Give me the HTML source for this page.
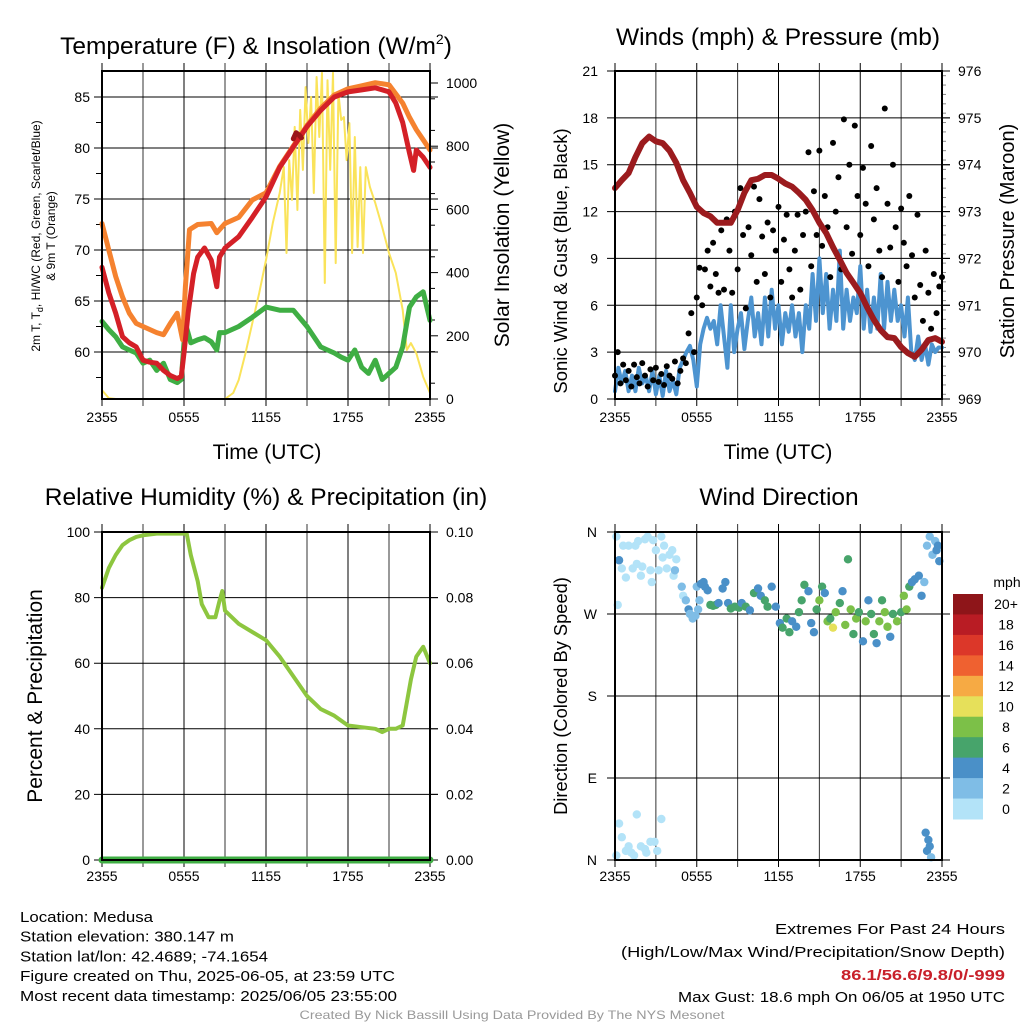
<!DOCTYPE html>
<html><head><meta charset="utf-8"><style>
html,body{margin:0;padding:0;background:#fff;}
svg{display:block;font-family:"Liberation Sans",Arial,sans-serif;}
</style></head><body>
<svg id="chart" width="1024" height="1024" viewBox="0 0 1024 1024" xmlns="http://www.w3.org/2000/svg"></svg>
<script>
// ---------- DATA ----------
const xTickLabels = ["2355","0555","1155","1755","2355"];
// Panel 1: temperature
const tempHours = [0,0.5,1,1.5,2,2.5,3,3.5,4,4.5,5,5.5,5.8,6,6.3,6.7,7,7.5,8,8.4,8.6,9,10,11,12,13,14,15,16,17,18,19,20,21,21.5,22,22.5,22.8,23,23.5,24];
const temp2m = [68.3,65.8,63.8,61.5,60.9,60.5,59.2,59,58.9,58.2,57.7,57.4,57.6,59.9,63.8,67.7,69.3,70.2,69,66.4,69.3,70.2,71.3,73.2,75.2,78.1,80.1,82.1,83.7,85,85.5,85.7,85.9,85.5,84.4,82.5,79.5,77.8,79.8,79.1,78.1];
const temp9mHours = [0,0.5,1,1.5,2,2.5,3,4,4.5,5,5.5,5.9,6.1,6.4,7,8,8.4,9,10,11,12,13,14,15,16,17,18,19,20,21,22,22.5,23,23.5,24];
const temp9m = [72.6,70,67.4,65.4,63.8,62.8,62.5,61.9,61.7,62.8,63.8,61.2,66.4,72,72.5,72.6,71.7,72.6,73.2,74.9,75.6,78.2,80.2,82.2,83.9,85.2,85.8,86.1,86.4,86.2,84.4,83,81.8,80.8,79.8];
const dewHours = [0,0.5,1,1.5,2,2.5,3,3.5,4,4.5,5,5.5,5.8,6.1,6.5,7,7.5,8,8.4,8.6,9,10,11,12,13,14,15,16,16.5,17,17.5,18,18.5,19,19.5,20,20.5,21,21.5,22,22.5,23,23.5,24];
const dewpoint = [63,62.2,61.5,60.5,60.2,59.9,58.9,59.2,58.2,58.9,57.3,57,57.3,62.8,60.9,61.2,61.4,61,60.2,61.9,61.9,62.5,63.4,64.4,64.1,64.1,62.5,60.5,60.2,59.9,59.5,59.2,60.2,58.5,57.9,59.2,57.3,57.9,58.5,60.5,64.4,65.4,65.9,63.1];
const heatIdxHours = [14.0,14.2,14.4,14.6];
const heatIdx = [80.9,81.5,81.3,81.0];
const solarHours = [0,0.5,1,9,9.6,10,10.5,11,11.5,12,12.5,13,13.3,13.5,13.7,13.9,14.1,14.3,14.5,14.7,14.9,15.1,15.3,15.5,15.7,15.9,16.1,16.3,16.5,16.7,16.9,17.1,17.3,17.5,17.7,17.9,18.1,18.3,18.5,18.7,18.9,19.1,19.3,19.6,20,20.5,21,21.5,22,22.3,22.6,23,23.5,24];
const solar = [28,3,0,0,19,60,145,240,335,440,557,652,734,462,756,630,861,598,915,725,987,810,956,652,1019,829,1032,367,1009,725,1032,430,968,883,892,756,873,462,829,481,734,462,734,671,620,544,462,399,282,155,177,145,70,19];
const tempTicks = [60,65,70,75,80,85];
const solarTicks = [0,200,400,600,800,1000];
// Panel 2: winds & pressure
const pressHours = [0,0.5,1,1.5,2,2.5,3,3.5,4,4.5,5,5.5,6,6.5,7,7.5,8,8.5,9,9.5,10,10.5,11,11.5,12,12.5,13,13.5,14,14.5,15,15.5,16,16.5,17,17.5,18,18.5,19,19.5,20,20.5,21,21.5,22,22.5,23,23.5,24];
const pressure = [973.5,973.67,973.82,974.16,974.46,974.6,974.5,974.46,974.3,974.04,973.67,973.4,973.1,972.97,972.9,972.76,972.76,972.76,973.03,973.4,973.67,973.7,973.78,973.78,973.7,973.6,973.53,973.4,973.25,973.03,972.76,972.54,972.24,971.97,971.69,971.48,971.26,970.96,970.69,970.47,970.32,970.3,970.11,969.98,969.9,970.05,970.26,970.3,970.22];
const windStepHours = 0.25;
const windSpeed = [0.5,2,1,1.8,0.5,1.5,0.5,2,1,1.5,0.5,1.8,0.3,1.5,0.2,1.8,0.5,1.2,0.3,2,2.5,3,3.4,2.5,0.8,3.5,4.5,5.2,4.5,5,3.5,6,4,2,6,3,4.5,5.5,3.2,5,6.5,4,5.5,3.5,6.5,4,7,4.5,6,3.5,5.5,4.3,6,4,5.5,3,6,4.5,8,5,9,5.5,8,4.5,7,5,9.5,4.5,7,5,6.5,5.5,8.5,4.5,7,4.3,6.5,4.5,8,4.5,7.5,5,7,5,6,4,6.5,3,2.5,4,2.5,3.5,2.2,3.5,3,3.3,3.3];
const gustStepHours = 0.2;
const gusts = [1.5,3,1,2.2,1.2,1.8,0.8,2.2,1.4,1,2.3,1.5,0.8,1.9,1.2,2,1.1,1.6,0.9,2.1,1.5,1.3,2.4,1,1.8,2.6,
2.3,4.2,5.5,3,6.5,8.4,6,8.3,9.5,7.2,10,8,6.8,10.8,
7,11.5,9.5,6.8,12,8.3,13.5,10.5,5.8,11,9.2,13.6,7.5,12.8,10.4,8,11.3,6.5,10.8,9.5,12.3,7.5,10.2,11.8,8.3,6.5,9.5,11.8,7,10.5,
12,15.8,8.5,13.3,10.5,15.9,9.8,13,11,7.8,16.4,12,14.2,8.3,17.9,11,15,9.3,17.5,13,10.5,14.8,12.5,8.5,16.2,11.5,13.5,9.5,7.8,18.6,
12.5,9.7,15,11,7.5,12.2,10,8.5,13,9.2,6.5,11.8,7.3,5,9.5,6.8,4.5,8,5.5,7.2,7.8];
const windTicks = [0,3,6,9,12,15,18,21];
const pressTicks = [969,970,971,972,973,974,975,976];
// Panel 3: RH & precip
const rhHours = [0,0.5,1,1.5,2,2.5,3,4,5,6,6.2,6.5,7,7.3,7.8,8.3,8.6,8.8,9,10,11,12,13,14,15,16,17,18,19,20,20.5,21,21.5,22,22.3,22.6,23,23.5,24];
const rh = [83,89,93,96,97.5,98.5,99,99.5,99.5,99.5,99.5,93,85,78,74,74,79,82,76,72,69.5,67,62,56,50,46,44,41,40.5,40,39,40,40,41,48,55,62,65,60];
const precipHours = [0,24];
const precip = [0,0];
const rhTicks = [0,20,40,60,80,100];
const precipTicks = ["0.00","0.02","0.04","0.06","0.08","0.10"];
// Panel 4: wind direction
const dirHours = [0.1,0.2,0.3,0.5,0.6,0.8,1.0,1.3,1.5,1.7,1.6,1.9,2.2,2.0,2.4,2.6,2.8,3.0,2.7,3.2,3.4,3.5,3.6,3.8,4.0,4.2,4.3,4.5,4.4,4.9,5.0,
0.1,0.3,0.5,0.8,1.0,1.2,1.4,1.6,1.9,2.2,2.3,2.6,2.9,3.4,3.1,
5.2,5.4,5.5,5.7,5.9,6.0,6.2,6.1,6.3,6.5,6.6,6.8,7.0,7.2,7.4,7.6,7.9,8.1,8.3,8.5,8.8,9.1,9.3,9.6,9.9,10.2,10.5,10.7,11.0,11.2,11.5,11.8,12.1,12.3,12.6,12.8,13.0,13.3,13.5,13.7,13.9,14.2,14.4,14.6,14.8,15.0,15.2,15.4,15.6,15.8,16.0,16.2,16.5,16.7,16.9,17.1,17.3,17.5,17.7,17.9,18.2,18.4,18.6,18.8,19.0,19.2,19.4,19.6,19.8,20.0,20.2,20.4,20.7,21.0,21.2,21.4,21.6,21.8,22.0,22.3,22.5,22.7,22.9,23.1,23.3,23.5,23.6,23.8,23.7,
22.8,23.0,23.1,22.9,23.2];
const dirDeg = [355,280,329,320,345,310,345,320,345,350,325,312,352,322,355,318,351,340,305,318,355,332,345,320,335,340,312,330,318,300,290,
5,40,25,10,15,8,5,50,15,12,8,20,20,45,10,
285,275,270,265,268,300,285,275,303,305,300,296,280,279,280,282,298,305,282,276,278,277,282,278,274,293,298,290,285,278,300,278,260,255,265,250,262,256,272,285,302,295,260,250,275,285,300,293,262,265,255,272,282,295,258,330,275,248,265,272,240,262,285,270,248,238,262,285,272,256,245,270,262,272,290,275,300,305,308,312,290,305,345,355,335,350,340,328,345,
30,22,15,10,3];
const dirSpeed = [1,1,4.5,1,1,1,1,1,1,1,1,1,1,1,1,1,1,1,1,1,1,1,1,1,1,1,1,1,3,3,1,
1,1,1,1,1,1,1,1,1,1,1,1,1,1,1,
3,4.5,3,3,3,3,3,3,4.5,4.5,4.5,4.5,6.5,6.5,6.5,4.5,4.5,4.5,4.5,6.5,6.5,6.5,4.5,6.5,4.5,6.5,4.5,4.5,6.5,6.5,4.5,4.5,4.5,6.5,6.5,6.5,4.5,4.5,6.5,6.5,6.5,4.5,4.5,4.5,6.5,9,6.5,4.5,9,6.5,10,9,6.5,4.5,9,6.5,8.5,6.5,9,6.5,4.5,9,4.5,6.5,6.5,4.5,8.5,6.5,9,8.5,4.5,6.5,8.5,6.5,8.5,8.5,6.5,4.5,4.5,4.5,4.5,3,3,3,3,3,4.5,4.5,4.5,
4.5,4.5,4.5,4.5,3];
const dirTicks = ["N","E","S","W","N"];
const speedBins = ["0","2","4","6","8","10","12","14","16","18","20+"];
const binColors = ["#b3e3f8","#7fbde6","#4a90c8","#47a46b","#7cc048","#e6e05a","#f6aa44","#ef6130","#dc3729","#b91c24","#8e1519"];

// ---------- RENDER ----------
const NS = "http://www.w3.org/2000/svg";
const svg = document.getElementById("chart");
function mk(tag, attrs, parent) {
  const e = document.createElementNS(NS, tag);
  for (const k in attrs) e.setAttribute(k, attrs[k]);
  (parent || svg).appendChild(e);
  return e;
}
function txt(s, x, y, size, anchor, parent, extra) {
  const e = mk("text", Object.assign({x: x, y: y, "font-size": size, "text-anchor": anchor || "middle", fill: "#000"}, extra || {}), parent);
  e.textContent = s;
  return e;
}
function linScale(d0, d1, r0, r1) { return v => r0 + (v - d0) / (d1 - d0) * (r1 - r0); }

function panel(name, L, R, T, B) {
  const g = mk("g", {});
  
  
  return {g: g, L: L, R: R, T: T, B: B, x: linScale(0, 24, L, R)};
}
function grid(p, yVals, yScale) {
  const gg = mk("g", {stroke: "#000", "stroke-width": 1}, p.g);
  
  
  for (let h = 0; h <= 24; h += 3) {
    const x = p.x(h);
    mk("line", {x1: x, x2: x, y1: p.T - 8, y2: p.B + 7, stroke: (h % 6 === 0) ? "#000" : "#333"}, gg);
  }
  yVals.forEach(v => {
    const y = yScale(v);
    mk("line", {x1: p.L - 8, x2: p.R + 8, y1: y, y2: y}, gg);
  });
}
function frame(p) {
  const f = mk("rect", {x: p.L, y: p.T, width: p.R - p.L, height: p.B - p.T, fill: "none", stroke: "#000", "stroke-width": 2}, p.g);
  
  
}
function xLabels(p, y) {
  xTickLabels.forEach((s, i) => {
    const t = txt(s, p.x(i * 6), y, 14, "middle", p.g);
    
    
  });
}
function linePath(p, xs, ys, yScale, color, w, name) {
  let d = "";
  xs.forEach((h, i) => { d += (i ? "L" : "M") + p.x(h).toFixed(1) + "," + yScale(ys[i]).toFixed(1); });
  const e = mk("path", {d: d, fill: "none", stroke: color, "stroke-width": w, "stroke-linejoin": "round", "stroke-linecap": "round"}, p.g);
  
  
  return e;
}
function vTitle(s, x, y, size, parent, name) {
  const t = txt(s, x, y, size, "middle", parent, {transform: "rotate(-90 " + x + " " + y + ")"});
  
  
  return t;
}

// ===== Panel 1 =====
const p1 = panel("temperature-panel", 102, 430, 71, 399);
const yT = linScale(60, 85, 352, 97);
const yS = linScale(0, 1000, 399, 83);
grid(p1, tempTicks, yT);
tempTicks.forEach(v => {
  const t = txt(String(v), 90, yT(v) + 5, 14, "end", p1.g);
  
  
});
for (let v = 57.5; v < 86; v += 5) mk("line", {x1: 96, x2: 102, y1: yT(v), y2: yT(v), stroke: "#000"}, p1.g);
solarTicks.forEach(v => {
  mk("line", {x1: 430, x2: 438, y1: yS(v), y2: yS(v), stroke: "#000"}, p1.g);
  const t = txt(String(v), 446, yS(v) + 5, 14, "start", p1.g);
  
  
});
for (let v = 50; v < 1000; v += 100) mk("line", {x1: 430, x2: 435, y1: yS(v), y2: yS(v), stroke: "#000"}, p1.g);
linePath(p1, solarHours, solar, yS, "#fae35a", 2, "solar-insolation-line");
linePath(p1, dewHours, dewpoint, yT, "#3fae44", 5, "dewpoint-line");
linePath(p1, temp9mHours, temp9m, yT, "#f5822f", 5, "temp-9m-line");
linePath(p1, tempHours, temp2m, yT, "#d42027", 5, "temp-2m-line");
linePath(p1, heatIdxHours, heatIdx, yT, "#9a1418", 5, "heat-index-line");
frame(p1);
xLabels(p1, 422);
{ const t = txt("Temperature (F) & Insolation (W/m", 256, 54, 24.5, "middle", p1.g);
  const s = mk("tspan", {"font-size": 14, dy: -10}, t); s.textContent = "2";
  const s2 = mk("tspan", {dy: 10}, t); s2.textContent = ")";
    }
{ const t = txt("Time (UTC)", 267, 459, 21, "middle", p1.g);   }
{ const t = vTitle("2m T, T", 40, 236, 12, p1.g, "temp-y-axis-title");
  t.textContent = "";
  const a = mk("tspan", {}, t); a.textContent = "2m T, T";
  const b = mk("tspan", {"font-size": 9, dy: 3}, t); b.textContent = "d";
  const c = mk("tspan", {dy: -3}, t); c.textContent = ", HI/WC (Red, Green, Scarlet/Blue)"; }
vTitle("& 9m T (Orange)", 55, 236, 12, p1.g, "temp-y-axis-title-line2");
vTitle("Solar Insolation (Yellow)", 509, 235, 21, p1.g, "solar-y-axis-title");

// ===== Panel 2 =====
const p2 = panel("winds-panel", 615, 942, 71, 399);
const yW = linScale(0, 21, 399, 71);
const yP = linScale(969, 976, 399, 71);
grid(p2, windTicks, yW);
windTicks.forEach(v => {
  const t = txt(String(v), 598, yW(v) + 5, 14, "end", p2.g);
  
  
});
pressTicks.forEach(v => {
  mk("line", {x1: 942, x2: 950, y1: yP(v), y2: yP(v), stroke: "#000"}, p2.g);
  const t = txt(String(v), 958, yP(v) + 5, 14, "start", p2.g);
  
  
});
for (let v = 969.1; v < 976; v += 0.2) mk("line", {x1: 942, x2: 946, y1: yP(v), y2: yP(v), stroke: "#888"}, p2.g);
linePath(p2, windSpeed.map((v, i) => i * windStepHours), windSpeed, yW, "#4d94d0", 4, "wind-speed-line");
{ const gg = mk("g", {fill: "#000"}, p2.g);
   
  gusts.forEach((v, i) => {
    const c = mk("circle", {cx: p2.x(i * gustStepHours), cy: yW(v), r: 3}, gg);
    
    
  }); }
linePath(p2, pressHours, pressure, yP, "#9b1b1e", 6, "pressure-line");
frame(p2);
xLabels(p2, 422);
{ const t = txt("Winds (mph) & Pressure (mb)", 778, 45, 24.5, "middle", p2.g);   }
{ const t = txt("Time (UTC)", 778, 459, 21, "middle", p2.g);   }
vTitle("Sonic Wind & Gust (Blue, Black)", 567, 261, 18.5, p2.g, "wind-y-axis-title");
vTitle("Station Pressure (Maroon)", 1014, 241, 20, p2.g, "pressure-y-axis-title");

// ===== Panel 3 =====
const p3 = panel("humidity-panel", 102, 430, 532, 860);
const yH = linScale(0, 100, 860, 532);
grid(p3, rhTicks, yH);
rhTicks.forEach((v, i) => {
  const t = txt(String(v), 90, yH(v) + 5, 14, "end", p3.g);
  
  
  const t2 = txt(precipTicks[i], 446, yH(v) + 5, 14, "start", p3.g);
  
  
  mk("line", {x1: 430, x2: 438, y1: yH(v), y2: yH(v), stroke: "#000"}, p3.g);
});
const yPr = linScale(0, 0.1, 860, 532);
linePath(p3, precipHours, precip, yPr, "#3fae44", 7, "precipitation-line");
linePath(p3, rhHours, rh, yH, "#8dc63f", 4, "relative-humidity-line");
frame(p3);
xLabels(p3, 881);
{ const t = txt("Relative Humidity (%) & Precipitation (in)", 266, 505, 24.5, "middle", p3.g);   }
vTitle("Percent & Precipitation", 42, 696, 21, p3.g, "rh-y-axis-title");

// ===== Panel 4 =====
const p4 = panel("wind-direction-panel", 615, 942, 532, 860);
const yD = linScale(0, 360, 860, 532);
grid(p4, [0, 90, 180, 270, 360], yD);
dirTicks.forEach((s, i) => {
  const t = txt(s, 597, yD(i * 90) + 5, 14, "end", p4.g);
  
  
});
function binOf(s) { return Math.min(10, Math.floor(s / 2)); }
{ const gg = mk("g", {}, p4.g);
   
  dirHours.forEach((h, i) => {
    const c = mk("circle", {cx: p4.x(h), cy: yD(dirDeg[i]), r: 4.2, fill: binColors[binOf(dirSpeed[i])]}, gg);
    
    
  }); }
frame(p4);
xLabels(p4, 881);
{ const t = txt("Wind Direction", 779, 505, 24.5, "middle", p4.g);   }
vTitle("Direction (Colored By Speed)", 567, 696, 18.3, p4.g, "direction-y-axis-title");
{ const lg = mk("g", {}, svg);
   
  const top = 594, bh = 225 / 11;
  for (let i = 0; i < 11; i++) {
    const bi = 10 - i;
    const r = mk("rect", {x: 953, y: top + i * bh, width: 30, height: bh + 0.5, fill: binColors[bi]}, lg);
    
    
    const t = txt(speedBins[bi], 1006, top + i * bh + bh / 2 + 5, 14, "middle", lg);
    
    
  }
  const u = txt("mph", 1007, 587, 14, "middle", lg);
  
  
}

// ===== Footer text =====
const leftLines = ["Location: Medusa","Station elevation: 380.147 m","Station lat/lon: 42.4689; -74.1654","Figure created on Thu, 2025-06-05, at 23:59 UTC","Most recent data timestamp: 2025/06/05 23:55:00"];
const leftWidths = [133,214,248,375,377];
leftLines.forEach((s, i) => {
  const t = txt(s, 20, 922 + i * 19.7, 15, "start", svg, {textLength: leftWidths[i], lengthAdjust: "spacingAndGlyphs"});
  
  
});
{ const t = txt("Extremes For Past 24 Hours", 1005, 934, 15, "end", svg, {textLength: 230, lengthAdjust: "spacingAndGlyphs"});   }
{ const t = txt("(High/Low/Max Wind/Precipitation/Snow Depth)", 1005, 957, 15, "end", svg, {textLength: 384, lengthAdjust: "spacingAndGlyphs"});   }
{ const t = txt("86.1/56.6/9.8/0/-999", 1005, 980, 15, "end", svg, {fill: "#c8202a", "font-weight": "bold", textLength: 164, lengthAdjust: "spacingAndGlyphs"});   }
{ const t = txt("Max Gust: 18.6 mph On 06/05 at 1950 UTC", 1005, 1002, 15, "end", svg, {textLength: 327, lengthAdjust: "spacingAndGlyphs"});   }
{ const t = txt("Created By Nick Bassill Using Data Provided By The NYS Mesonet", 512, 1019, 12, "middle", svg, {fill: "#999", textLength: 425, lengthAdjust: "spacingAndGlyphs"});   }
</script>
</body></html>
